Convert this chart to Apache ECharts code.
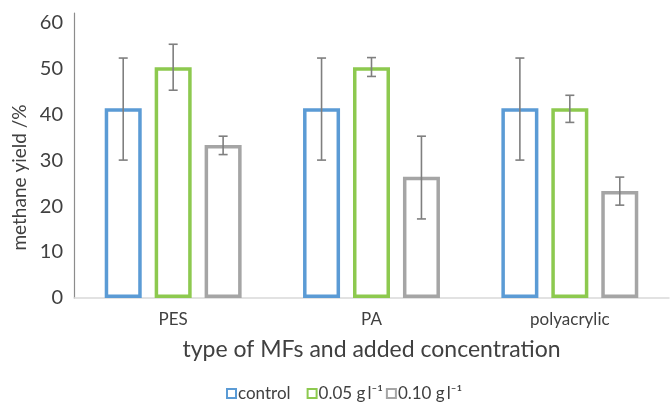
<!DOCTYPE html>
<html><head><meta charset="utf-8">
<script src="https://cdn.jsdelivr.net/npm/echarts@6/dist/echarts.min.js"></script>
<style>html,body{margin:0;padding:0;background:#fff}#c{width:670px;height:404px}</style>
</head><body><div id="c"></div>
<script>
const categories = ['PES', 'PA', 'polyacrylic'];
const seriesNames = ['control', '0.05 g\u2009l\u207B\u00B9', '0.10 g\u2009l\u207B\u00B9'];
const controlValues = [41.3, 41.3, 41.3];
const controlLow = [30, 30, 30];
const controlHigh = [52.2, 52.2, 52.2];
const low05Values = [50.2, 50.2, 41.3];
const low05Low = [45.2, 48.2, 38.2];
const low05High = [55.2, 52.3, 44.1];
const high10Values = [33.3, 26.4, 23.3];
const high10Low = [31.2, 17.2, 20.2];
const high10High = [35.2, 35.2, 26.3];
const yTicks = [0, 10, 20, 30, 40, 50, 60];

const colors = ['#5B9BD5', '#8DC94F', '#A5A5A5'];
const values = [controlValues, low05Values, high10Values];
const lows = [controlLow, low05Low, high10Low];
const highs = [controlHigh, low05High, high10High];
const FONT = 'Lato';
const BW = 37, GAP = '35%';

const chart = echarts.init(document.getElementById('c'), null, {renderer: 'canvas'});
const series = [];
values.forEach((v, i) => {
  series.push({
    name: seriesNames[i], type: 'bar', data: v,
    barWidth: BW, barGap: GAP, barCategoryGap: '30%',
    itemStyle: {color: '#fff', borderColor: colors[i], borderWidth: 3.5},
    emphasis: {disabled: true}
  });
});
values.forEach((v, i) => {
  series.push({
    type: 'custom', name: seriesNames[i] + '_err',
    data: categories.map((c, k) => [k, lows[i][k], highs[i][k]]),
    z: 10, silent: true,
    renderItem: function (params, api) {
      const k = api.value(0);
      const lo = api.coord([k, api.value(1)]);
      const hi = api.coord([k, api.value(2)]);
      const offset = (i - 1) * BW * 1.35;
      const x = lo[0] + offset;
      const cap = 4.5;
      const st = {stroke: '#7F7F7F', lineWidth: 1.6};
      return {type: 'group', children: [
        {type: 'line', shape: {x1: x, y1: lo[1], x2: x, y2: hi[1]}, style: st},
        {type: 'line', shape: {x1: x - cap, y1: lo[1], x2: x + cap, y2: lo[1]}, style: st},
        {type: 'line', shape: {x1: x - cap, y1: hi[1], x2: x + cap, y2: hi[1]}, style: st}
      ]};
    }
  });
});

chart.setOption({
  animation: false,
  textStyle: {fontFamily: FONT},
  grid: {left: 74, right: 1, top: 13, bottom: 106},
  legend: {
    data: seriesNames, left: 221, top: 380, icon: 'rect',
    itemWidth: 9, itemHeight: 9, itemGap: 3,
    formatter: n => n === 'control' ? n + '   ' : n,
    textStyle: {fontFamily: FONT, fontSize: 17, color: '#404040', padding: [0, 0, 0, -3]}
  },
  xAxis: {
    type: 'category', data: categories,
    name: 'type of MFs and added concentration', nameLocation: 'middle', nameGap: 40,
    nameTextStyle: {fontFamily: FONT, fontSize: 23, color: '#404040'},
    axisLine: {lineStyle: {color: '#D9D9D9', width: 1.5}},
    axisTick: {show: false},
    axisLabel: {fontFamily: FONT, fontSize: 17, color: '#404040', margin: 13}
  },
  yAxis: {
    type: 'value', min: 0, max: 62, interval: 10,
    name: 'methane yield /%', nameLocation: 'middle', nameGap: 37,
    nameTextStyle: {fontFamily: FONT, fontSize: 19, color: '#404040', padding: [0, 44, 0, 0]},
    axisLine: {show: true, lineStyle: {color: '#8C8C8C', width: 1.2}},
    axisTick: {show: false},
    splitLine: {show: false},
    axisLabel: {fontFamily: FONT, fontSize: 20, color: '#404040', margin: 11, showMaxLabel: false,
      formatter: v => yTicks.includes(v) ? String(v) : ''}
  },
  series: series
});
</script></body></html>
